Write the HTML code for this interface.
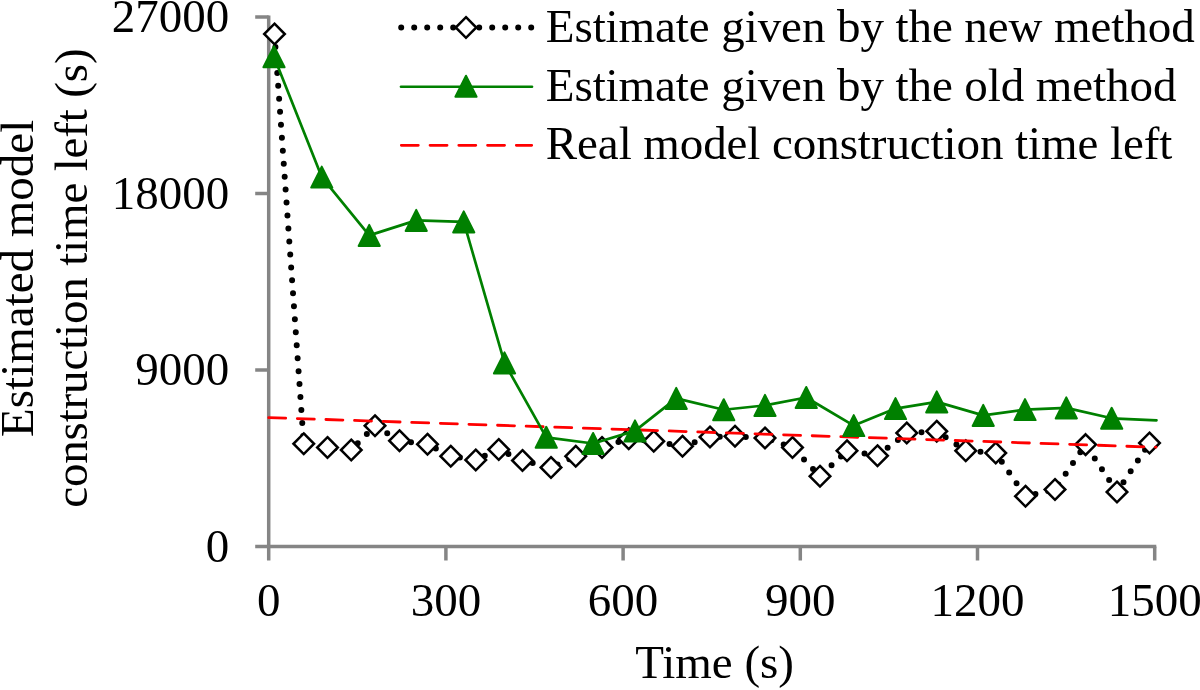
<!DOCTYPE html>
<html lang="en">
<head>
<meta charset="utf-8">
<title>Estimated model construction time left</title>
<style>
html,body{margin:0;padding:0;background:#fff;}
body{width:1200px;height:690px;overflow:hidden;}
svg{display:block;}
text{font-family:"Liberation Serif","Times New Roman",Times,serif;font-size:47px;fill:#000;}
</style>
</head>
<body>
<svg width="1200" height="690" viewBox="0 0 1200 690">
<rect x="0" y="0" width="1200" height="690" fill="#ffffff"/>

<g stroke="#858585" stroke-width="3.5" fill="none" stroke-linecap="butt">
<path d="M268.7 15.4 V560.5"/>
<path d="M255.2 546.5 H1156.3"/>
<path d="M255.2 370 H268.7"/>
<path d="M255.2 193.5 H268.7"/>
<path d="M255.2 17 H268.7"/>
<path d="M445.9 546.5 V560.5"/>
<path d="M623.1 546.5 V560.5"/>
<path d="M800.3 546.5 V560.5"/>
<path d="M977.5 546.5 V560.5"/>
<path d="M1154.7 546.5 V560.5"/>
</g>
<polyline points="274.5,34 303.75,443.75 327.5,447.5 351.25,450 375,425.75 399.5,440.75 427.5,444.25 450.75,456.25 475.75,460 498.75,449.5 522.5,460.5 551,467.5 575.75,456.25 602,447.5 628.75,438.75 653.75,441.25 682.5,446.25 710,437 735,436.25 765,438 792.5,447.5 820,476.25 847,450.75 877.5,455.75 906.75,433 936.75,431.25 965.75,450.75 995.75,453 1025.5,496.25 1055,489.5 1085.6,444.6 1117,492 1149.5,443" fill="none" stroke="#000" stroke-width="6" stroke-linecap="round" stroke-linejoin="round" stroke-dasharray="0 13"/>
<g fill="#fff" stroke="#000" stroke-width="2.5" stroke-linejoin="miter">
<path d="M274.5 23.7 l10.3 10.3 l-10.3 10.3 l-10.3 -10.3 z"/>
<path d="M303.75 433.45 l10.3 10.3 l-10.3 10.3 l-10.3 -10.3 z"/>
<path d="M327.5 437.2 l10.3 10.3 l-10.3 10.3 l-10.3 -10.3 z"/>
<path d="M351.25 439.7 l10.3 10.3 l-10.3 10.3 l-10.3 -10.3 z"/>
<path d="M375 415.45 l10.3 10.3 l-10.3 10.3 l-10.3 -10.3 z"/>
<path d="M399.5 430.45 l10.3 10.3 l-10.3 10.3 l-10.3 -10.3 z"/>
<path d="M427.5 433.95 l10.3 10.3 l-10.3 10.3 l-10.3 -10.3 z"/>
<path d="M450.75 445.95 l10.3 10.3 l-10.3 10.3 l-10.3 -10.3 z"/>
<path d="M475.75 449.7 l10.3 10.3 l-10.3 10.3 l-10.3 -10.3 z"/>
<path d="M498.75 439.2 l10.3 10.3 l-10.3 10.3 l-10.3 -10.3 z"/>
<path d="M522.5 450.2 l10.3 10.3 l-10.3 10.3 l-10.3 -10.3 z"/>
<path d="M551 457.2 l10.3 10.3 l-10.3 10.3 l-10.3 -10.3 z"/>
<path d="M575.75 445.95 l10.3 10.3 l-10.3 10.3 l-10.3 -10.3 z"/>
<path d="M602 437.2 l10.3 10.3 l-10.3 10.3 l-10.3 -10.3 z"/>
<path d="M628.75 428.45 l10.3 10.3 l-10.3 10.3 l-10.3 -10.3 z"/>
<path d="M653.75 430.95 l10.3 10.3 l-10.3 10.3 l-10.3 -10.3 z"/>
<path d="M682.5 435.95 l10.3 10.3 l-10.3 10.3 l-10.3 -10.3 z"/>
<path d="M710 426.7 l10.3 10.3 l-10.3 10.3 l-10.3 -10.3 z"/>
<path d="M735 425.95 l10.3 10.3 l-10.3 10.3 l-10.3 -10.3 z"/>
<path d="M765 427.7 l10.3 10.3 l-10.3 10.3 l-10.3 -10.3 z"/>
<path d="M792.5 437.2 l10.3 10.3 l-10.3 10.3 l-10.3 -10.3 z"/>
<path d="M820 465.95 l10.3 10.3 l-10.3 10.3 l-10.3 -10.3 z"/>
<path d="M847 440.45 l10.3 10.3 l-10.3 10.3 l-10.3 -10.3 z"/>
<path d="M877.5 445.45 l10.3 10.3 l-10.3 10.3 l-10.3 -10.3 z"/>
<path d="M906.75 422.7 l10.3 10.3 l-10.3 10.3 l-10.3 -10.3 z"/>
<path d="M936.75 420.95 l10.3 10.3 l-10.3 10.3 l-10.3 -10.3 z"/>
<path d="M965.75 440.45 l10.3 10.3 l-10.3 10.3 l-10.3 -10.3 z"/>
<path d="M995.75 442.7 l10.3 10.3 l-10.3 10.3 l-10.3 -10.3 z"/>
<path d="M1025.5 485.95 l10.3 10.3 l-10.3 10.3 l-10.3 -10.3 z"/>
<path d="M1055 479.2 l10.3 10.3 l-10.3 10.3 l-10.3 -10.3 z"/>
<path d="M1085.6 434.3 l10.3 10.3 l-10.3 10.3 l-10.3 -10.3 z"/>
<path d="M1117 481.7 l10.3 10.3 l-10.3 10.3 l-10.3 -10.3 z"/>
<path d="M1149.5 432.7 l10.3 10.3 l-10.3 10.3 l-10.3 -10.3 z"/>
</g>
<path d="M268.7 417.6 L1156 447.2" fill="none" stroke="#ff0000" stroke-width="2.8" stroke-linecap="round" stroke-dasharray="17 11.62"/>
<polyline points="274,56.75 321.75,177.1 369.25,235.4 416.25,220.4 463.75,221.9 504.5,362.9 546.25,437.3 593.1,443.5 635,430.9 676.25,398.4 723.75,409.75 765,405.4 806.25,397.5 853.75,425.6 895.5,408.6 936.75,401.9 983.25,415.4 1025,409.6 1066.3,407.9 1111.7,418.3 1156.5,420.3" fill="none" stroke="#008000" stroke-width="2.7" stroke-linecap="round" stroke-linejoin="round"/>
<g fill="#008000" stroke="#008000" stroke-width="2" stroke-linejoin="round">
<path d="M274 46.25 l10.6 21 h-21.2 z"/>
<path d="M321.75 166.6 l10.6 21 h-21.2 z"/>
<path d="M369.25 224.9 l10.6 21 h-21.2 z"/>
<path d="M416.25 209.9 l10.6 21 h-21.2 z"/>
<path d="M463.75 211.4 l10.6 21 h-21.2 z"/>
<path d="M504.5 352.4 l10.6 21 h-21.2 z"/>
<path d="M546.25 426.8 l10.6 21 h-21.2 z"/>
<path d="M593.1 433 l10.6 21 h-21.2 z"/>
<path d="M635 420.4 l10.6 21 h-21.2 z"/>
<path d="M676.25 387.9 l10.6 21 h-21.2 z"/>
<path d="M723.75 399.25 l10.6 21 h-21.2 z"/>
<path d="M765 394.9 l10.6 21 h-21.2 z"/>
<path d="M806.25 387 l10.6 21 h-21.2 z"/>
<path d="M853.75 415.1 l10.6 21 h-21.2 z"/>
<path d="M895.5 398.1 l10.6 21 h-21.2 z"/>
<path d="M936.75 391.4 l10.6 21 h-21.2 z"/>
<path d="M983.25 404.9 l10.6 21 h-21.2 z"/>
<path d="M1025 399.1 l10.6 21 h-21.2 z"/>
<path d="M1066.3 397.4 l10.6 21 h-21.2 z"/>
<path d="M1111.7 407.8 l10.6 21 h-21.2 z"/>
</g>
<path d="M401.2 27.5 H531.5" fill="none" stroke="#000" stroke-width="6" stroke-linecap="round" stroke-dasharray="0 13"/>
<path d="M466 17.2 l10.3 10.3 l-10.3 10.3 l-10.3 -10.3 z" fill="#fff" stroke="#000" stroke-width="2.5"/>
<path d="M401 86.75 H532" fill="none" stroke="#008000" stroke-width="2.7" stroke-linecap="round"/>
<path d="M466 75.75 l10.6 21 h-21.2 z" fill="#008000" stroke="#008000" stroke-width="2" stroke-linejoin="round"/>
<path d="M401.3 145.3 H531.7" fill="none" stroke="#ff0000" stroke-width="2.8" stroke-linecap="round" stroke-dasharray="17 11.75"/>
<text x="545.8" y="42" letter-spacing="-0.08">Estimate given by the new method</text>
<text x="545.8" y="101.3" letter-spacing="-0.08">Estimate given by the old method</text>
<text x="545.8" y="159.4" letter-spacing="-0.08">Real model construction time left</text>
<text x="229.2" y="561.7" text-anchor="end">0</text>
<text x="229.2" y="385.2" text-anchor="end">9000</text>
<text x="229.2" y="208.7" text-anchor="end">18000</text>
<text x="229.2" y="32.2" text-anchor="end">27000</text>
<text x="268.7" y="615.8" text-anchor="middle">0</text>
<text x="445.9" y="615.8" text-anchor="middle">300</text>
<text x="623.1" y="615.8" text-anchor="middle">600</text>
<text x="800.3" y="615.8" text-anchor="middle">900</text>
<text x="977.5" y="615.8" text-anchor="middle">1200</text>
<text x="1154.7" y="615.8" text-anchor="middle">1500</text>
<text x="714.6" y="678.4" text-anchor="middle">Time (s)</text>
<text transform="translate(32.5 278.3) rotate(-90)" text-anchor="middle">Estimated model</text>
<text transform="translate(87.4 278.2) rotate(-90)" text-anchor="middle" letter-spacing="-0.16">construction time left (s)</text>
</svg>
</body>
</html>
